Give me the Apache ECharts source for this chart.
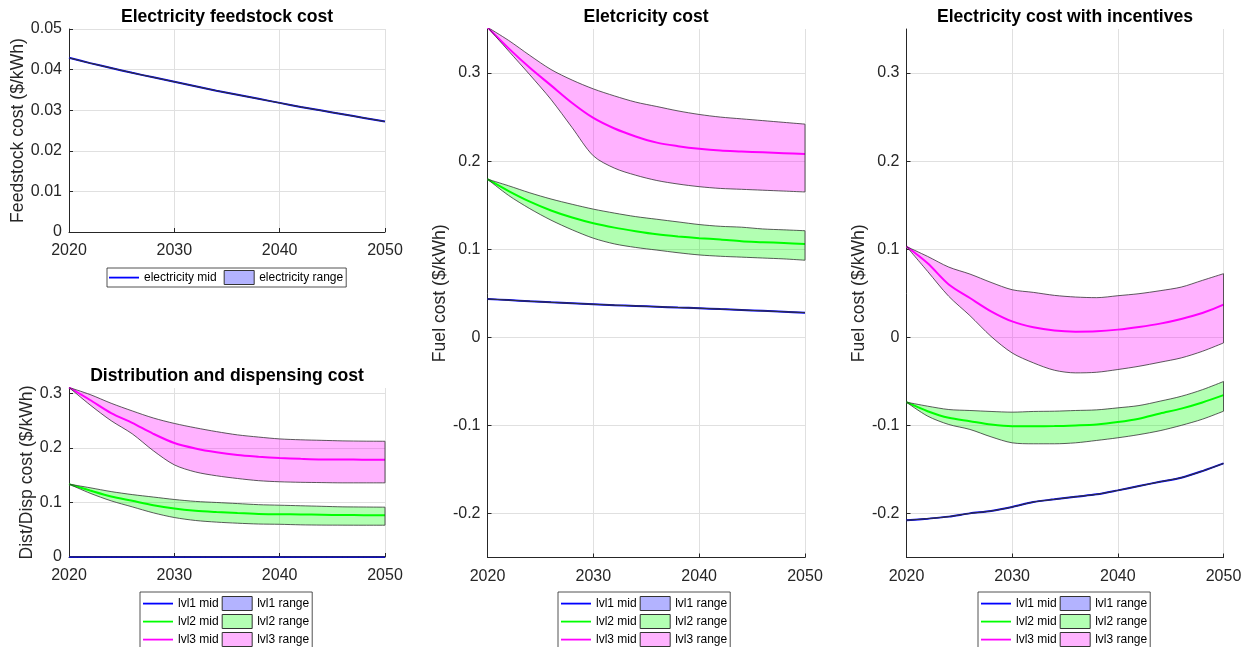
<!DOCTYPE html>
<html><head><meta charset="utf-8">
<script src="https://cdn.jsdelivr.net/npm/echarts@6/dist/echarts.min.js"></script>
<style>html,body{margin:0;padding:0;background:#fff}#c{width:1251px;height:647px}</style>
</head><body><div id="c"></div>
<script>
// ---------------- DATA ----------------
const years = ['2020','2022','2024','2026','2028','2030','2032','2034','2036','2038','2040','2042','2044','2046','2048','2050'];
const xTickLabels = ['2020', '2030', '2040', '2050'];

// Electricity feedstock cost
const feedMid  = [0.0429,0.0416,0.0404,0.0392,0.0381,0.0370,0.0359,0.0348,0.0338,0.0328,0.0318,0.0308,0.0299,0.0290,0.0281,0.0272];
const feedLow  = [0.0429,0.0416,0.0404,0.0392,0.0381,0.0370,0.0359,0.0348,0.0338,0.0328,0.0318,0.0308,0.0299,0.0290,0.0281,0.0272];
const feedHigh = [0.0429,0.0416,0.0404,0.0392,0.0381,0.0370,0.0359,0.0348,0.0338,0.0328,0.0318,0.0308,0.0299,0.0290,0.0281,0.0272];

// Distribution and dispensing cost
const dd1Mid  = [0,0,0,0,0,0,0,0,0,0,0,0,0,0,0,0];
const dd1Low  = [0,0,0,0,0,0,0,0,0,0,0,0,0,0,0,0];
const dd1High = [0,0,0,0,0,0,0,0,0,0,0,0,0,0,0,0];
const dd2Mid  = [0.1337,0.122,0.111,0.103,0.095,0.089,0.085,0.0825,0.0805,0.079,0.0785,0.078,0.0775,0.077,0.0768,0.0767];
const dd2Low  = [0.1337,0.117,0.103,0.092,0.081,0.0724,0.067,0.064,0.062,0.0605,0.060,0.059,0.0585,0.0584,0.0583,0.0583];
const dd2High = [0.1337,0.127,0.120,0.1145,0.110,0.1055,0.102,0.100,0.098,0.096,0.095,0.094,0.093,0.092,0.0917,0.0914];
const dd3Mid  = [0.311,0.288,0.264,0.246,0.226,0.209,0.199,0.192,0.187,0.184,0.1816,0.180,0.179,0.179,0.1785,0.1785];
const dd3Low  = [0.311,0.279,0.250,0.226,0.195,0.169,0.156,0.149,0.144,0.140,0.138,0.137,0.1365,0.136,0.136,0.136];
const dd3High = [0.311,0.298,0.282,0.268,0.255,0.245,0.237,0.230,0.224,0.220,0.2166,0.215,0.214,0.213,0.2125,0.2123];

// Electricity cost
const ec1Mid  = [0.0435,0.0422,0.0409,0.0397,0.0386,0.0375,0.0365,0.0356,0.0347,0.0338,0.0330,0.0320,0.0310,0.0300,0.0290,0.0280];
const ec1Low  = [0.0435,0.0422,0.0409,0.0397,0.0386,0.0375,0.0365,0.0356,0.0347,0.0338,0.0330,0.0320,0.0310,0.0300,0.0290,0.0280];
const ec1High = [0.0435,0.0422,0.0409,0.0397,0.0386,0.0375,0.0365,0.0356,0.0347,0.0338,0.0330,0.0320,0.0310,0.0300,0.0290,0.0280];
const ec2Mid  = [0.1795,0.166,0.154,0.144,0.136,0.1295,0.1245,0.1205,0.117,0.1145,0.1125,0.111,0.109,0.108,0.107,0.106];
const ec2Low  = [0.1795,0.161,0.146,0.133,0.122,0.1125,0.106,0.102,0.099,0.096,0.0935,0.092,0.091,0.090,0.089,0.0875];
const ec2High = [0.1795,0.172,0.164,0.157,0.151,0.1455,0.141,0.137,0.134,0.131,0.128,0.126,0.125,0.123,0.122,0.121];
const ec3Mid  = [0.352,0.328,0.306,0.286,0.266,0.249,0.237,0.228,0.221,0.217,0.214,0.212,0.211,0.210,0.209,0.208];
const ec3Low  = [0.352,0.325,0.298,0.270,0.238,0.206,0.192,0.184,0.178,0.174,0.171,0.169,0.168,0.167,0.166,0.165];
const ec3High = [0.352,0.337,0.320,0.304,0.292,0.282,0.274,0.267,0.262,0.257,0.253,0.250,0.248,0.246,0.244,0.242];

// Electricity cost with incentives
const in1Mid  = [-0.2078,-0.2059,-0.2036,-0.1999,-0.1972,-0.1927,-0.187,-0.184,-0.181,-0.1783,-0.1738,-0.1689,-0.164,-0.1594,-0.1519,-0.1432];
const in1Low  = [-0.2078,-0.2059,-0.2036,-0.1999,-0.1972,-0.1927,-0.187,-0.184,-0.181,-0.1783,-0.1738,-0.1689,-0.164,-0.1594,-0.1519,-0.1432];
const in1High = [-0.2078,-0.2059,-0.2036,-0.1999,-0.1972,-0.1927,-0.187,-0.184,-0.181,-0.1783,-0.1738,-0.1689,-0.164,-0.1594,-0.1519,-0.1432];
const in2Mid  = [-0.0737,-0.0839,-0.0914,-0.0952,-0.099,-0.1009,-0.1009,-0.1008,-0.1001,-0.099,-0.0963,-0.0925,-0.0865,-0.081,-0.074,-0.0657];
const in2Low  = [-0.0737,-0.0895,-0.099,-0.1046,-0.113,-0.1198,-0.1209,-0.1209,-0.1198,-0.1171,-0.1141,-0.1105,-0.106,-0.100,-0.093,-0.0839];
const in2High = [-0.0737,-0.0782,-0.082,-0.0831,-0.0842,-0.085,-0.0842,-0.0839,-0.0831,-0.0824,-0.0801,-0.0775,-0.0725,-0.067,-0.0595,-0.0502];
const in3Mid  = [0.103,0.084,0.060,0.0446,0.0295,0.018,0.0113,0.0076,0.0064,0.0068,0.0087,0.0117,0.0155,0.0208,0.0276,0.037];
const in3Low  = [0.103,0.0748,0.0465,0.0246,0.001,-0.0178,-0.029,-0.0374,-0.0404,-0.0397,-0.0366,-0.0329,-0.0283,-0.0234,-0.0159,-0.0064];
const in3High = [0.103,0.0918,0.0797,0.0718,0.0623,0.054,0.051,0.0476,0.0457,0.045,0.0472,0.0495,0.0529,0.057,0.0646,0.0722];

// ---------------- STYLE ----------------
const FONT = '"Liberation Sans", Arial, Helvetica, sans-serif';
const INK = '#262626';
const GRIDC = '#e0e0e0';
const EDGE = '#333333';
const LINEC = {b: '#0000ff', g: '#00ff00', m: '#ff00ff'};
const FILLC = {b: 'rgba(0,0,255,0.3)', g: 'rgba(0,255,0,0.3)', m: 'rgba(255,0,255,0.3)'};
const LEGFILL = {b: '#b3b3ff', g: '#b3ffb3', m: '#ffb3ff'};
const LINE_ICON = 'path://M0,0M0,6.2H30V8H0ZM30,14';
const SMOOTH = 0.3;

const series = [];
function addBand(gi, name, c, mid, lo, hi, clipMid) {
  const n = years.length;
  const stackId = 'band' + gi + name;
  series.push({type: 'line', name: name + ' mid', xAxisIndex: gi, yAxisIndex: gi,
    data: mid, symbol: 'none', smooth: SMOOTH, clip: clipMid !== false,
    lineStyle: {color: LINEC[c], width: 2}, itemStyle: {color: LINEC[c]}});
  series.push({type: 'line', name: name + ' range base', xAxisIndex: gi, yAxisIndex: gi,
    data: lo, symbol: 'none', smooth: SMOOTH, stack: stackId, stackStrategy: 'all',
    lineStyle: {color: EDGE, width: 0.8}, itemStyle: {color: EDGE}});
  series.push({type: 'line', name: name + ' range', xAxisIndex: gi, yAxisIndex: gi,
    data: hi.map((v, i) => v - lo[i]), symbol: 'none', smooth: SMOOTH, stack: stackId, stackStrategy: 'all',
    areaStyle: {color: FILLC[c], opacity: 1},
    lineStyle: {color: EDGE, width: 0.8}, itemStyle: {color: LEGFILL[c]}});
  series.push({type: 'line', name: name + ' range edge', xAxisIndex: gi, yAxisIndex: gi,
    data: [[years[n - 1], lo[n - 1]], [years[n - 1], hi[n - 1]]], symbol: 'none',
    lineStyle: {color: EDGE, width: 0.8}});
}

addBand(0, 'electricity', 'b', feedMid, feedLow, feedHigh);
addBand(1, 'lvl1', 'b', dd1Mid, dd1Low, dd1High, false);
addBand(1, 'lvl2', 'g', dd2Mid, dd2Low, dd2High);
addBand(1, 'lvl3', 'm', dd3Mid, dd3Low, dd3High);
addBand(2, 'lvl1', 'b', ec1Mid, ec1Low, ec1High);
addBand(2, 'lvl2', 'g', ec2Mid, ec2Low, ec2High);
addBand(2, 'lvl3', 'm', ec3Mid, ec3Low, ec3High);
addBand(3, 'lvl1', 'b', in1Mid, in1Low, in1High);
addBand(3, 'lvl2', 'g', in2Mid, in2Low, in2High);
addBand(3, 'lvl3', 'm', in3Mid, in3Low, in3High);

const grids = [
  {left: 69, top: 29, width: 316, height: 203},
  {left: 69, top: 388, width: 316, height: 169},
  {left: 487.5, top: 29, width: 317.5, height: 528.5},
  {left: 906.5, top: 29, width: 317, height: 528.5}
];

const isTick = (idx, val) => xTickLabels.indexOf(String(val)) >= 0;
function xAxisCfg(gi) {
  return {type: 'category', gridIndex: gi, data: years, boundaryGap: false,
    axisLine: {show: true, onZero: false, lineStyle: {color: INK, width: 1}},
    axisTick: {show: true, inside: true, length: 4, interval: isTick, lineStyle: {color: INK}},
    axisLabel: {color: INK, fontSize: 16, fontFamily: FONT, margin: 11, interval: isTick},
    splitLine: {show: true, interval: isTick, lineStyle: {color: GRIDC, width: 1}}};
}
function yAxisCfg(gi, name, gap, extra) {
  return Object.assign({type: 'value', gridIndex: gi, name: name, nameLocation: 'middle', nameGap: gap, nameRotate: 90,
    nameTextStyle: {fontSize: 17.6, color: INK, fontFamily: FONT},
    axisLine: {show: true, onZero: false, lineStyle: {color: INK, width: 1}},
    axisTick: {show: true, inside: true, length: 4, lineStyle: {color: INK}},
    axisLabel: {color: INK, fontSize: 16, fontFamily: FONT, margin: 7},
    splitLine: {show: true, showMaxLine: false, lineStyle: {color: GRIDC, width: 1}}}, extra);
}

const yAxes = [
  yAxisCfg(0, 'Feedstock cost ($/kWh)', 38, {min: 0, max: 0.05, interval: 0.01}),
  yAxisCfg(1, 'Dist/Disp cost ($/kWh)', 30, {min: 0, max: 0.31, interval: 0.1}),
  yAxisCfg(2, 'Fuel cost ($/kWh)', 37.5, {min: -0.25, max: 0.35}),
  yAxisCfg(3, 'Fuel cost ($/kWh)', 37.5, {min: -0.25, max: 0.35})
];
yAxes[0].splitLine.showMaxLine = true;
yAxes[1].axisLabel.showMaxLabel = false;
yAxes[2].axisLabel.showMaxLabel = false; yAxes[2].axisLabel.showMinLabel = false;
yAxes[3].axisLabel.showMaxLabel = false; yAxes[3].axisLabel.showMinLabel = false;

function titleCfg(text, cx, top) {
  return {text: text, left: cx, top: top, textAlign: 'center', padding: 0,
    textStyle: {fontSize: 17.6, fontWeight: 'bold', color: '#000', fontFamily: FONT}};
}

function legItems(prefixes) {
  const out = [];
  prefixes.forEach(p => {
    out.push({name: p[0] + ' mid', icon: LINE_ICON, itemStyle: {color: LINEC[p[1]], borderWidth: 0}});
    out.push({name: p[0] + ' range', icon: 'rect', itemStyle: {color: LEGFILL[p[1]], borderColor: EDGE, borderWidth: 1}});
  });
  return out;
}
function legendCfg(left, top, width, gap, padding, items) {
  return {left: left, top: top, width: width, orient: 'horizontal', itemWidth: 30, itemHeight: 14, itemGap: gap,
    padding: padding, borderColor: INK, borderWidth: 0.8, backgroundColor: '#fff', selectedMode: false,
    textStyle: {fontFamily: FONT, fontSize: 12, color: '#000'}, data: items};
}
const lvlItems = legItems([['lvl1', 'b'], ['lvl2', 'g'], ['lvl3', 'm']]);

const option = {
  animation: false,
  backgroundColor: '#fff',
  title: [
    titleCfg('Electricity feedstock cost', 227, 8),
    titleCfg('Distribution and dispensing cost', 227, 367),
    titleCfg('Eletcricity cost', 646, 8),
    titleCfg('Electricity cost with incentives', 1065, 8)
  ],
  grid: grids,
  xAxis: [xAxisCfg(0), xAxisCfg(1), xAxisCfg(2), xAxisCfg(3)],
  yAxis: yAxes,
  legend: [
    legendCfg(107, 268, 300, 7, [2, 3, 2, 2], legItems([['electricity', 'b']])),
    legendCfg(140, 592, 170, 3, [4, 3, 2, 3], lvlItems),
    legendCfg(558, 592, 170, 3, [4, 3, 2, 3], lvlItems),
    legendCfg(978, 592, 170, 3, [4, 3, 2, 3], lvlItems)
  ],
  series: series
};

const chart = echarts.init(document.getElementById('c'), null, {renderer: 'canvas'});
chart.setOption(option);
</script>
</body></html>
